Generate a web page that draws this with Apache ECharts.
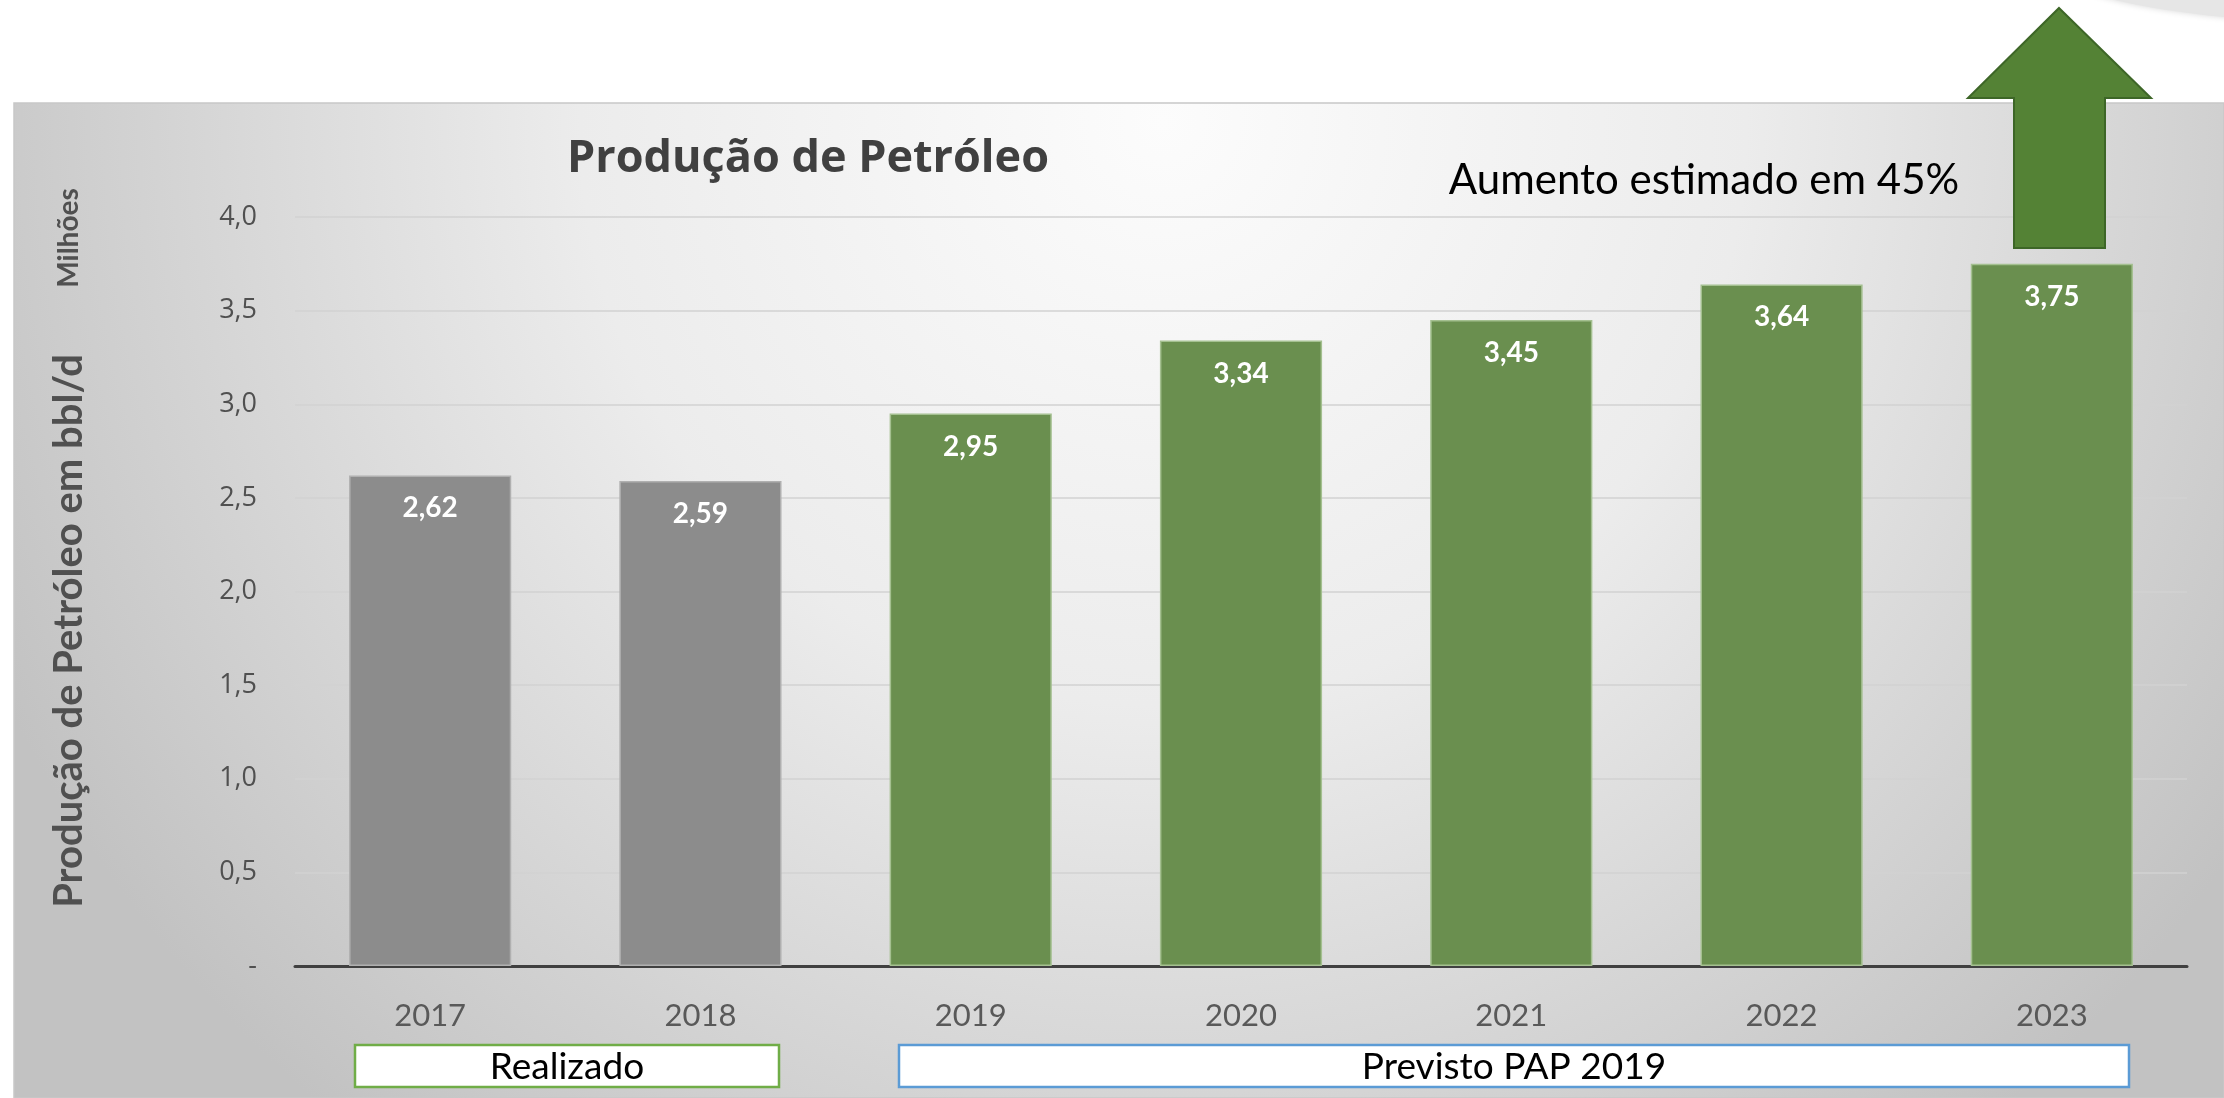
<!DOCTYPE html>
<html>
<head>
<meta charset="utf-8">
<script src="https://cdn.jsdelivr.net/npm/echarts@6/dist/echarts.min.js"></script>
<style>
  html, body { margin: 0; padding: 0; background: #fff; }
  #graph { width: 2224px; height: 1098px; }
</style>
</head>
<body>
<div id="graph"></div>
<script>
var years = ['2017', '2018', '2019', '2020', '2021', '2022', '2023'];
var production = [2.62, 2.59, 2.95, 3.34, 3.45, 3.64, 3.75];
var phase = ['realizado', 'realizado', 'previsto', 'previsto', 'previsto', 'previsto', 'previsto'];
var yTicks = [0, 0.5, 1, 1.5, 2, 2.5, 3, 3.5, 4];

var colorMap = new Map([
  ['realizado', { fill: '#8c8c8c', border: '#b0b0b0' }],
  ['previsto', { fill: '#6a8f4f', border: '#a4c090' }]
]);

var comma = (v, d) => v.toFixed(d).replace('.', ',');

var container = document.getElementById('graph');
var chart = echarts.init(container);

var bars = production.map((v, i) => {
  var c = colorMap.get(phase[i]);
  return {
    value: v,
    itemStyle: { color: c.fill, borderColor: c.border, borderWidth: 1.5 }
  };
});

var option = {
  backgroundColor: '#ffffff',
  animation: false,
  grid: { left: 295, right: 37, top: 217, bottom: 132 },
  xAxis: {
    type: 'category',
    data: years,
    axisTick: { show: false },
    axisLine: { lineStyle: { color: '#404040', width: 3 } },
    axisLabel: {
      margin: 34,
      fontFamily: 'Lato',
      fontSize: 31,
      color: '#595959'
    }
  },
  yAxis: {
    type: 'value',
    min: 0,
    max: yTicks[yTicks.length - 1],
    interval: 0.5,
    axisLine: { show: false },
    axisTick: { show: false },
    splitLine: { lineStyle: { color: '#d2d2d2', width: 1.5 } },
    axisLabel: {
      margin: 38,
      fontFamily: 'Open Sans',
      fontSize: 27,
      color: '#505050',
      formatter: v => v === 0 ? '-' : comma(v, 1)
    }
  },
  series: [
    {
      name: 'Produção de Petróleo',
      type: 'bar',
      data: bars,
      barWidth: '60%',
      label: {
        show: true,
        position: 'insideTop',
        distance: 19,
        fontFamily: 'Lato',
        fontWeight: 'bold',
        fontSize: 28,
        color: '#ffffff',
        formatter: p => comma(p.value, 2)
      }
    }
  ],
  graphic: [
    // slide background panel
    {
      type: 'rect',
      z: -10,
      shape: { x: 14, y: 103, width: 2210, height: 995 },
      style: {
        fill: {
          type: 'radial', x: 0.52, y: 0.02, r: 1.3,
          colorStops: [
            { offset: 0, color: '#fcfcfc' },
            { offset: 0.45, color: '#ececec' },
            { offset: 1, color: '#c2c2c2' }
          ]
        },
        stroke: '#c8c8c8',
        lineWidth: 1.5
      }
    },
    {
      type: 'ellipse',
      z: -11,
      shape: { cx: 2400, cy: -30, rx: 340, ry: 55 },
      style: { fill: '#e6e6e6', shadowBlur: 6, shadowColor: 'rgba(0,0,0,0.15)' }
    },
    {
      type: 'text',
      style: {
        text: 'Produção de Petróleo',
        x: 808, y: 159,
        align: 'center', verticalAlign: 'middle',
        fontFamily: 'Open Sans', fontWeight: 'bold', fontSize: 45,
        fill: '#404040'
      }
    },
    {
      type: 'text',
      style: {
        text: 'Aumento estimado em 45%',
        x: 1704, y: 180,
        align: 'center', verticalAlign: 'middle',
        fontFamily: 'Lato', fontSize: 42,
        fill: '#000000'
      }
    },
    {
      type: 'text',
      x: 69, y: 631, rotation: Math.PI / 2,
      style: {
        text: 'Produção de Petróleo em bbl/d',
        x: 0, y: 0,
        align: 'center', verticalAlign: 'middle',
        fontFamily: 'Lato', fontWeight: 'bold', fontSize: 40,
        fill: '#505050'
      }
    },
    {
      type: 'text',
      x: 69, y: 238, rotation: Math.PI / 2,
      style: {
        text: 'Milhões',
        x: 0, y: 0,
        align: 'center', verticalAlign: 'middle',
        fontFamily: 'Lato', fontWeight: 'bold', fontSize: 28,
        fill: '#505050'
      }
    },
    // up arrow
    {
      type: 'polygon',
      z: 100,
      shape: {
        points: [[2059, 8], [2151, 98], [2105, 98], [2105, 248], [2014, 248], [2014, 98], [1968, 98]]
      },
      style: { fill: '#548235', stroke: '#3d6627', lineWidth: 2 }
    },
    // group boxes under the axis
    {
      type: 'rect',
      shape: { x: 355, y: 1045, width: 424, height: 42 },
      style: { fill: '#ffffff', stroke: '#70ad47', lineWidth: 2.5 }
    },
    {
      type: 'text',
      style: {
        text: 'Realizado',
        x: 567, y: 1067,
        align: 'center', verticalAlign: 'middle',
        fontFamily: 'Lato', fontSize: 37,
        fill: '#000000'
      }
    },
    {
      type: 'rect',
      shape: { x: 899, y: 1045, width: 1230, height: 42 },
      style: { fill: '#ffffff', stroke: '#5b9bd5', lineWidth: 2.5 }
    },
    {
      type: 'text',
      style: {
        text: 'Previsto PAP 2019',
        x: 1514, y: 1067,
        align: 'center', verticalAlign: 'middle',
        fontFamily: 'Lato', fontSize: 37,
        fill: '#000000'
      }
    }
  ]
};

chart.setOption(option);
</script>
</body>
</html>
